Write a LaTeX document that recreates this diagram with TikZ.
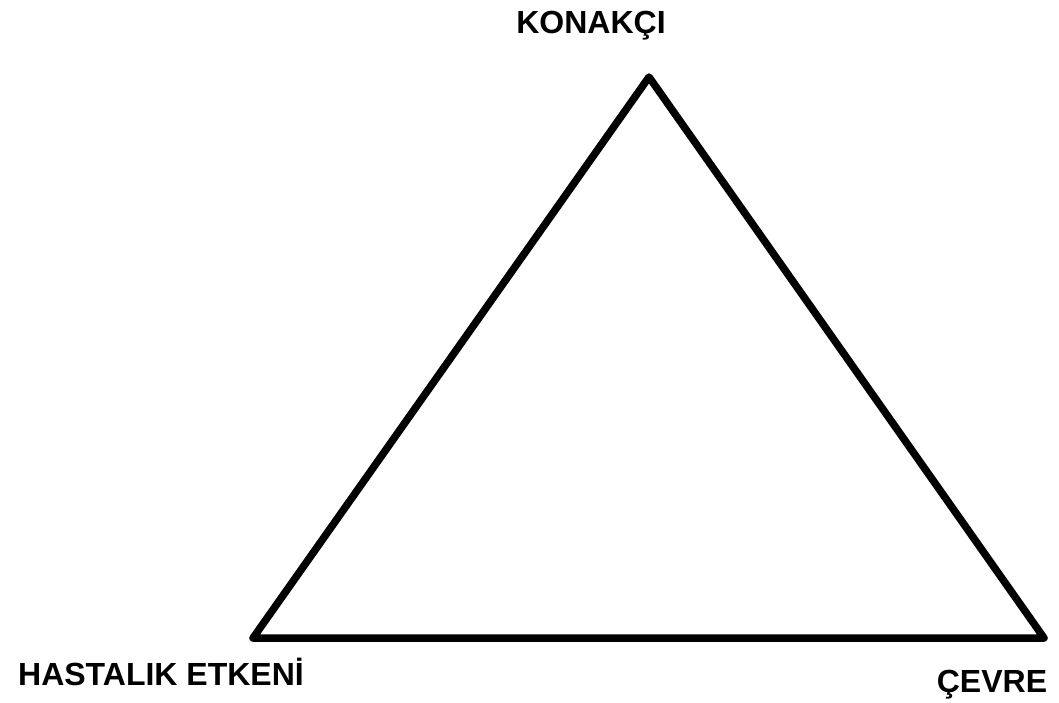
\documentclass[tikz,border=0pt]{standalone}
\usepackage{fontspec}
\setmainfont{Liberation Sans}
\usetikzlibrary{positioning, calc}

\begin{document}
\begin{tikzpicture}[x=1pt, y=-1pt, line width=7.5pt]
    \tikzset{
        label/.style={font=\fontsize{32}{38}\selectfont\bfseries, inner sep=0pt, anchor=base}
    }
    \useasboundingbox (0,0) rectangle (1059,703);

    \coordinate (Host) at (649,77);
    \coordinate (Agent) at (253,638);
    \coordinate (Env) at (1044,638);

    \node (HostLbl) [label] at (591,34) {KONAKÇI};
    \node (AgentLbl) [label] at (161,685) {HASTALIK ETKENİ};
    \node (EnvLbl) [label] at (992,692) {ÇEVRE};

    \draw [line join=round] (Host) -- (Agent) -- (Env) -- cycle;
\end{tikzpicture}
\end{document}
